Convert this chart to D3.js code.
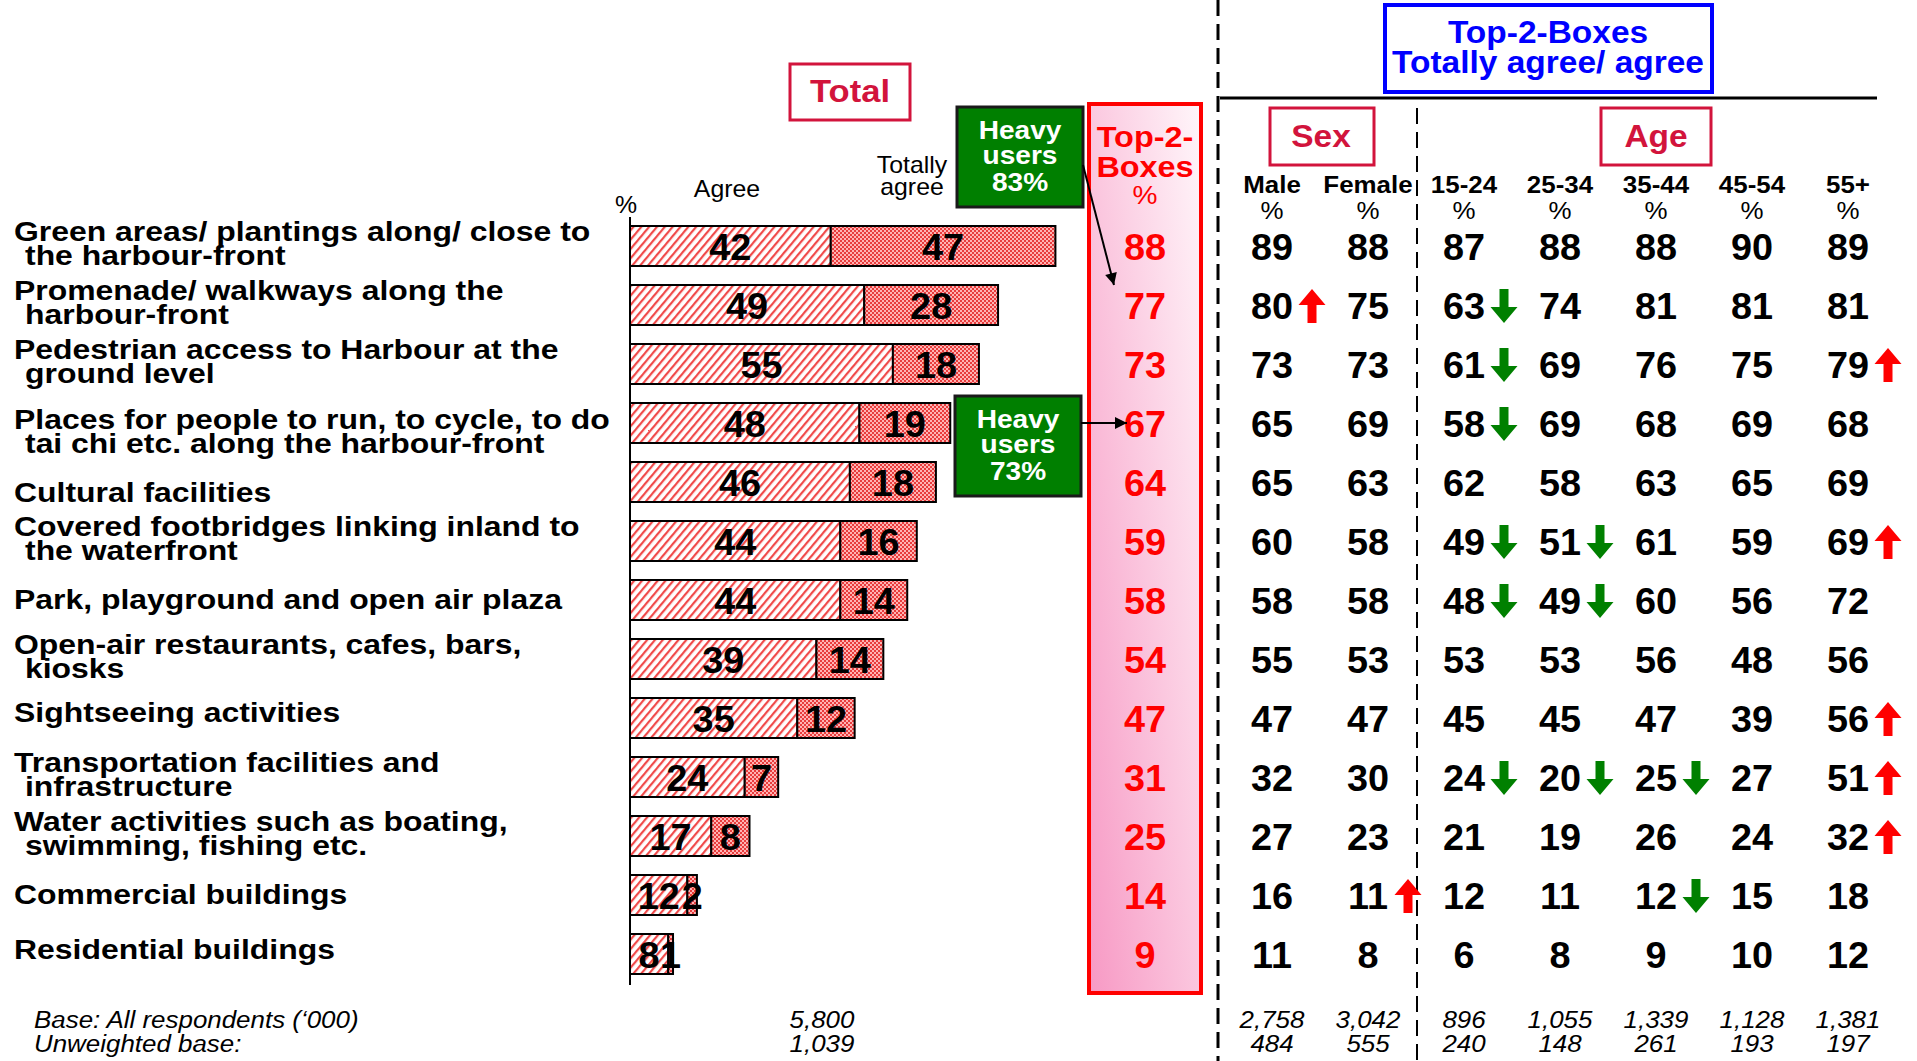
<!DOCTYPE html>
<html>
<head>
<meta charset="utf-8">
<script src="https://cdn.jsdelivr.net/npm/d3@7/dist/d3.min.js"></script>
<style>
  body { margin: 0; background: #fff; }
  svg { display: block; font-family: "Liberation Sans", Arial, sans-serif; }
</style>
</head>
<body>
<div id="chart"></div>
<script>
// ---- data ----
var items = [
  "Green areas/ plantings along/ close to\nthe harbour-front",
  "Promenade/ walkways along the\nharbour-front",
  "Pedestrian access to Harbour at the\nground level",
  "Places for people to run, to cycle, to do\ntai chi etc. along the harbour-front",
  "Cultural facilities",
  "Covered footbridges linking inland to\nthe waterfront",
  "Park, playground and open air plaza",
  "Open-air restaurants, cafes, bars,\nkiosks",
  "Sightseeing activities",
  "Transportation facilities and\ninfrastructure",
  "Water activities such as boating,\nswimming, fishing etc.",
  "Commercial buildings",
  "Residential buildings"
];
var agree        = [42, 49, 55, 48, 46, 44, 44, 39, 35, 24, 17, 12, 8];
var totallyAgree = [47, 28, 18, 19, 18, 16, 14, 14, 12, 7, 8, 2, 1];
var top2         = [88, 77, 73, 67, 64, 59, 58, 54, 47, 31, 25, 14, 9];

var groups = ["Male", "Female", "15-24", "25-34", "35-44", "45-54", "55+"];
var male    = [89, 80, 73, 65, 65, 60, 58, 55, 47, 32, 27, 16, 11];
var female  = [88, 75, 73, 69, 63, 58, 58, 53, 47, 30, 23, 11, 8];
var age1524 = [87, 63, 61, 58, 62, 49, 48, 53, 45, 24, 21, 12, 6];
var age2534 = [88, 74, 69, 69, 58, 51, 49, 53, 45, 20, 19, 11, 8];
var age3544 = [88, 81, 76, 68, 63, 61, 60, 56, 47, 25, 26, 12, 9];
var age4554 = [90, 81, 75, 69, 65, 59, 56, 48, 39, 27, 24, 15, 10];
var age55   = [89, 81, 79, 68, 69, 69, 72, 56, 56, 51, 32, 18, 12];

// significance: u = higher, d = lower
var sigMale    = ["", "u", "", "", "", "", "", "", "", "", "", "", ""];
var sigFemale  = ["", "", "", "", "", "", "", "", "", "", "", "u", ""];
var sig1524    = ["", "d", "d", "d", "", "d", "d", "", "", "d", "", "", ""];
var sig2534    = ["", "", "", "", "", "d", "d", "", "", "d", "", "", ""];
var sig3544    = ["", "", "", "", "", "", "", "", "", "d", "", "d", ""];
var sig4554    = ["", "", "", "", "", "", "", "", "", "", "", "", ""];
var sig55      = ["", "", "u", "", "", "u", "", "", "u", "u", "u", "", ""];

var heavyUsers = ["83%", "73%"];
var baseTotal = "5,800", unweightedTotal = "1,039";
var bases      = ["2,758", "3,042", "896", "1,055", "1,339", "1,128", "1,381"];
var unweighted = ["484", "555", "240", "148", "261", "193", "197"];

var groupValues = [male, female, age1524, age2534, age3544, age4554, age55];
var groupSig = [sigMale, sigFemale, sig1524, sig2534, sig3544, sig4554, sig55];

// ---- drawing ----
var W = 1917, H = 1061;
var crimson = "#d2143c";

var svg = d3.select("#chart").append("svg").attr("width", W).attr("height", H);
var defs = svg.append("defs");

// hatched "agree" fill
var pA = defs.append("pattern").attr("id", "hatch").attr("patternUnits", "userSpaceOnUse")
  .attr("width", 6).attr("height", 6).attr("patternTransform", "rotate(40)");
pA.append("rect").attr("width", 6).attr("height", 6).attr("fill", "#fff");
pA.append("rect").attr("width", 2.2).attr("height", 6).attr("fill", "#f04a4a");

// checkered "totally agree" fill
var pT = defs.append("pattern").attr("id", "check").attr("patternUnits", "userSpaceOnUse")
  .attr("width", 4).attr("height", 4);
pT.append("rect").attr("width", 4).attr("height", 4).attr("fill", "#ffb3b3");
pT.append("rect").attr("width", 2).attr("height", 2).attr("fill", "#e83c3c");
pT.append("rect").attr("x", 2).attr("y", 2).attr("width", 2).attr("height", 2).attr("fill", "#e83c3c");

var grad = defs.append("linearGradient").attr("id", "pinkGrad")
  .attr("x1", 0).attr("y1", 1).attr("x2", 1).attr("y2", 0);
grad.append("stop").attr("offset", "0%").attr("stop-color", "#f799c4");
grad.append("stop").attr("offset", "100%").attr("stop-color", "#fff6fa");

defs.append("marker").attr("id", "head").attr("viewBox", "0 0 10 10")
  .attr("refX", 10).attr("refY", 5).attr("markerWidth", 16).attr("markerHeight", 12)
  .attr("markerUnits", "userSpaceOnUse").attr("orient", "auto")
  .append("path").attr("d", "M0,0L10,5L0,10Z").attr("fill", "#000");

function txt(sel, x, y, s, o) {
  o = o || {};
  return sel.append("text")
    .attr("transform", "translate(" + x + "," + y + ") scale(" + (o.sx || 1.08) + ",1)")
    .attr("text-anchor", o.anchor || "middle")
    .attr("font-size", o.size || 24)
    .attr("font-weight", o.bold ? "bold" : "normal")
    .attr("font-style", o.italic ? "italic" : "normal")
    .attr("fill", o.fill || "#000")
    .text(s);
}

var y = d3.scalePoint().domain(d3.range(items.length)).range([246, 954]);
var x = d3.scaleLinear().domain([0, 100]).range([630, 1108]);
var col = d3.scalePoint().domain(groups).range([1272, 1848]);
var barH = 40;

// row labels (the slide places a few of them slightly off-centre)
var labelNudge = {3: 11, 4: 11, 8: -5, 12: -4};
items.forEach(function(lbl, i) {
  var lines = lbl.split("\n");
  var cy = y(i) + (labelNudge[i] || 0);
  var lo = {size: 28, bold: true, anchor: "start", sx: 1.14};
  if (lines.length == 1) {
    txt(svg, 14, cy + 9, lines[0], lo);
  } else {
    txt(svg, 14, cy - 5, lines[0], lo);
    txt(svg, 25, cy + 19, lines[1], lo);
  }
});

// stacked bars
var rows = svg.append("g").selectAll("g").data(items).enter().append("g");
rows.append("rect")
  .attr("x", x(0)).attr("y", function(d, i) { return y(i) - barH / 2; })
  .attr("width", function(d, i) { return x(agree[i]) - x(0); })
  .attr("height", barH).attr("fill", "url(#hatch)").attr("stroke", "#000").attr("stroke-width", 2);
rows.append("rect")
  .attr("x", function(d, i) { return x(agree[i]); })
  .attr("y", function(d, i) { return y(i) - barH / 2; })
  .attr("width", function(d, i) { return x(agree[i] + totallyAgree[i]) - x(agree[i]); })
  .attr("height", barH).attr("fill", "url(#check)").attr("stroke", "#000").attr("stroke-width", 2);
rows.each(function(d, i) {
  var g = d3.select(this);
  txt(g, (x(0) + x(agree[i])) / 2, y(i) + 14, agree[i], {size: 36, bold: true, sx: 1.05});
  txt(g, (x(agree[i]) + x(agree[i] + totallyAgree[i])) / 2, y(i) + 14, totallyAgree[i], {size: 36, bold: true, sx: 1.05});
});

// axis line
svg.append("line").attr("x1", 630).attr("x2", 630).attr("y1", 217).attr("y2", 985)
  .attr("stroke", "#000").attr("stroke-width", 2);

// bar headers
txt(svg, 626, 213, "%", {size: 23});
txt(svg, 727, 197, "Agree", {size: 23});
txt(svg, 912, 173, "Totally", {size: 23});
txt(svg, 912, 195, "agree", {size: 23});

svg.append("rect").attr("x", 790).attr("y", 64).attr("width", 120).attr("height", 56)
  .attr("fill", "#fff").attr("stroke", crimson).attr("stroke-width", 3);
txt(svg, 850, 102, "Total", {size: 32, bold: true, fill: crimson});

// top-2-boxes column
svg.append("rect").attr("x", 1089).attr("y", 104).attr("width", 112).attr("height", 889)
  .attr("fill", "url(#pinkGrad)").attr("stroke", "#ff0000").attr("stroke-width", 4);
txt(svg, 1145, 147, "Top-2-", {size: 30, bold: true, fill: "#ff0000"});
txt(svg, 1145, 177, "Boxes", {size: 30, bold: true, fill: "#ff0000"});
txt(svg, 1145, 204, "%", {size: 26, fill: "#ff0000"});
top2.forEach(function(v, i) {
  txt(svg, 1145, y(i) + 14, v, {size: 36, bold: true, fill: "#ff0000", sx: 1.05});
});

// heavy users callouts
[[957, 107], [955, 396]].forEach(function(p, k) {
  svg.append("rect").attr("x", p[0]).attr("y", p[1]).attr("width", 126).attr("height", 100)
    .attr("fill", "#007f00").attr("stroke", "#1a1a1a").attr("stroke-width", 3);
  var cx = p[0] + 63;
  txt(svg, cx, p[1] + 32, "Heavy", {size: 26, bold: true, fill: "#fff"});
  txt(svg, cx, p[1] + 57, "users", {size: 26, bold: true, fill: "#fff"});
  txt(svg, cx, p[1] + 84, heavyUsers[k], {size: 26, bold: true, fill: "#fff"});
});
svg.append("line").attr("x1", 1083).attr("y1", 165).attr("x2", 1114).attr("y2", y(1) - 20)
  .attr("stroke", "#000").attr("stroke-width", 2).attr("marker-end", "url(#head)");
svg.append("line").attr("x1", 1081).attr("y1", y(3)).attr("x2", 1127).attr("y2", y(3))
  .attr("stroke", "#000").attr("stroke-width", 2).attr("marker-end", "url(#head)");

// separators
svg.append("line").attr("x1", 1218).attr("x2", 1218).attr("y1", 0).attr("y2", H)
  .attr("stroke", "#000").attr("stroke-width", 3).attr("stroke-dasharray", "16,8");
svg.append("line").attr("x1", 1417).attr("x2", 1417).attr("y1", 108).attr("y2", H)
  .attr("stroke", "#000").attr("stroke-width", 2).attr("stroke-dasharray", "16,8");
svg.append("line").attr("x1", 1220).attr("x2", 1877).attr("y1", 98).attr("y2", 98)
  .attr("stroke", "#000").attr("stroke-width", 3);

// right-hand headers
svg.append("rect").attr("x", 1385).attr("y", 5).attr("width", 327).attr("height", 87)
  .attr("fill", "#fff").attr("stroke", "#0000ff").attr("stroke-width", 4);
txt(svg, 1548, 43, "Top-2-Boxes", {size: 31, bold: true, fill: "#0000ff"});
txt(svg, 1548, 73, "Totally agree/ agree", {size: 31, bold: true, fill: "#0000ff"});

svg.append("rect").attr("x", 1270).attr("y", 108).attr("width", 104).attr("height", 57)
  .attr("fill", "#fff").attr("stroke", crimson).attr("stroke-width", 3);
txt(svg, 1321, 147, "Sex", {size: 31, bold: true, fill: crimson});
svg.append("rect").attr("x", 1601).attr("y", 108).attr("width", 110).attr("height", 57)
  .attr("fill", "#fff").attr("stroke", crimson).attr("stroke-width", 3);
txt(svg, 1656, 147, "Age", {size: 31, bold: true, fill: crimson});

groups.forEach(function(gname, j) {
  var cx = col(gname);
  txt(svg, cx, 193, gname, {size: 24, bold: true});
  txt(svg, cx, 219, "%", {size: 24});
  groupValues[j].forEach(function(v, i) {
    txt(svg, cx, y(i) + 14, v, {size: 36, bold: true, sx: 1.05});
    var s = groupSig[j][i];
    if (s) {
      var ax = cx + 40, ay = y(i) + 1;
      var d = s == "u"
        ? "M0,-17L13.5,-1L4.5,-1L4.5,17L-4.5,17L-4.5,-1L-13.5,-1Z"
        : "M0,17L13.5,1L4.5,1L4.5,-17L-4.5,-17L-4.5,1L-13.5,1Z";
      svg.append("path").attr("d", d).attr("transform", "translate(" + ax + "," + ay + ")")
        .attr("fill", s == "u" ? "#ff0000" : "#008000");
    }
  });
  txt(svg, cx, 1028, bases[j], {size: 24, italic: true});
  txt(svg, cx, 1052, unweighted[j], {size: 24, italic: true});
});

// base rows
txt(svg, 34, 1028, "Base: All respondents (\u2018000)", {size: 24, italic: true, anchor: "start"});
txt(svg, 34, 1052, "Unweighted base:", {size: 24, italic: true, anchor: "start"});
txt(svg, 822, 1028, baseTotal, {size: 24, italic: true});
txt(svg, 822, 1052, unweightedTotal, {size: 24, italic: true});
</script>
</body>
</html>
